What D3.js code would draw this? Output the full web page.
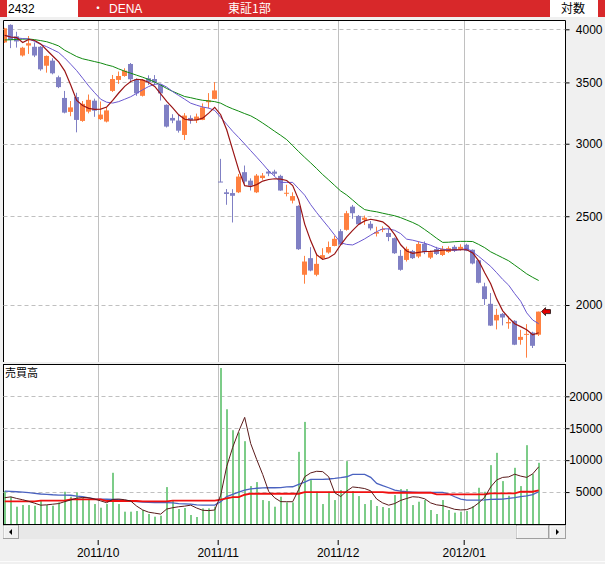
<!DOCTYPE html>
<meta charset="utf-8">
<style>
body { margin: 0; background: #f0f0f0; }
text { font-family: "Liberation Sans", "Noto Sans CJK JP", sans-serif; font-size: 12px; }
.jp { font-family: "Noto Sans CJK JP", sans-serif; }
</style>
<body>
<script src="https://d3js.org/d3.v7.min.js"></script>
<script>

// trading days shown
var dates = [
  "2011/09/07","2011/09/08","2011/09/09","2011/09/12","2011/09/13","2011/09/14","2011/09/15","2011/09/16",
  "2011/09/20","2011/09/21","2011/09/22","2011/09/26","2011/09/27","2011/09/28","2011/09/29","2011/09/30",
  "2011/10/03","2011/10/04","2011/10/05","2011/10/06","2011/10/07","2011/10/11","2011/10/12","2011/10/13",
  "2011/10/14","2011/10/17","2011/10/18","2011/10/19","2011/10/20","2011/10/21","2011/10/24","2011/10/25",
  "2011/10/26","2011/10/27","2011/10/28","2011/10/31",
  "2011/11/01","2011/11/02","2011/11/04","2011/11/07","2011/11/08","2011/11/09","2011/11/10","2011/11/11",
  "2011/11/14","2011/11/15","2011/11/16","2011/11/17","2011/11/18","2011/11/21","2011/11/22","2011/11/24",
  "2011/11/25","2011/11/28","2011/11/29","2011/11/30",
  "2011/12/01","2011/12/02","2011/12/05","2011/12/06","2011/12/07","2011/12/08","2011/12/09","2011/12/12",
  "2011/12/13","2011/12/14","2011/12/15","2011/12/16","2011/12/19","2011/12/20","2011/12/21","2011/12/22",
  "2011/12/26","2011/12/27","2011/12/28","2011/12/29","2011/12/30",
  "2012/01/04","2012/01/05","2012/01/06","2012/01/10","2012/01/11","2012/01/12","2012/01/13","2012/01/16",
  "2012/01/17","2012/01/18","2012/01/19","2012/01/20","2012/01/23"
];

var open = [
  3870,4045,3930,3745,3840,3828,3828,3650,3697,3546,
  3366,3250,3374,3177,3252,3343,3191,3172,3426,3522,
  3557,3666,3528,3384,3537,3530,3478,3308,3201,3180,
  3067,3201,3182,3185,3330,3358,2728,2655,2650,2655,
  2793,2734,2655,2752,2797,2797,2767,2648,2600,2566,
  2158,2250,2158,2250,2282,2320,2408,2416,2561,2502,
  2477,2453,2393,2415,2397,2366,2263,2240,2291,2259,
  2332,2253,2302,2268,2285,2315,2298,2327,2298,2238,
  2096,2006,1924,1956,1910,1922,1832,1856,1866,1856
];
var high = [
  4015,4050,3975,3828,3933,3870,3835,3745,3719,3560,
  3426,3340,3410,3340,3395,3360,3336,3290,3566,3597,
  3627,3675,3535,3530,3563,3565,3482,3312,3231,3225,
  3240,3222,3236,3320,3407,3503,2888,2677,2676,2780,
  2840,2750,2780,2787,2810,2810,2775,2706,2655,2570,
  2263,2313,2278,2307,2346,2380,2420,2534,2572,2508,
  2504,2470,2435,2437,2425,2370,2297,2316,2297,2347,
  2347,2294,2315,2320,2318,2325,2330,2333,2300,2240,
  2115,2061,1981,1960,1943,1925,1879,1906,1870,1967
];
var low = [
  3865,3815,3820,3735,3760,3730,3604,3587,3572,3450,
  3238,3215,3087,3170,3238,3210,3185,3165,3417,3487,
  3550,3500,3384,3378,3478,3478,3344,3125,3159,3085,
  3028,3155,3160,3183,3278,3355,2724,2573,2461,2650,
  2713,2667,2650,2740,2765,2766,2665,2628,2582,2297,
  2110,2177,2150,2240,2275,2318,2325,2411,2484,2446,
  2446,2413,2376,2402,2348,2274,2180,2231,2245,2250,
  2273,2245,2268,2262,2280,2285,2293,2290,2215,2112,
  2000,1897,1881,1900,1884,1808,1810,1752,1795,1850
];
var close = [
  4010,3894,3880,3819,3862,3745,3617,3741,3581,3459,
  3244,3287,3185,3316,3350,3260,3228,3262,3530,3557,
  3605,3528,3405,3522,3502,3500,3405,3132,3180,3100,
  3220,3182,3212,3287,3345,3430,2725,2644,2632,2762,
  2728,2700,2769,2769,2783,2782,2667,2652,2630,2301,
  2231,2181,2218,2267,2314,2362,2328,2519,2519,2450,
  2491,2425,2403,2421,2373,2278,2185,2303,2250,2332,
  2284,2284,2274,2303,2307,2292,2315,2292,2220,2115,
  2030,1899,1951,1938,1916,1810,1846,1860,1805,1967
];

// price moving averages (short / middle / long)
var maShort = [
  3940,3923,3917,3869,3899,3889,3856,3797,3740,3685,
  3603,3477,3345,3303,3279,3271,3273,3290,3345,3408,
  3465,3508,3528,3522,3500,3465,3400,3337,3283,3226,
  3190,3183,3185,3199,3240,3287,3227,3107,2954,2809,
  2700,2694,2707,2731,2742,2747,2745,2735,2700,2605,
  2451,2350,2269,2243,2252,2274,2327,2374,2413,2449,
  2471,2481,2474,2465,2435,2387,2327,2291,2277,2283,
  2288,2289,2292,2295,2296,2298,2298,2298,2280,2235,
  2169,2110,2031,1971,1937,1908,1894,1879,1856,1865
];
var maMid = [
  3940,3923,3914,3908,3904,3880,3851,3829,3801,3773,
  3722,3664,3605,3537,3469,3410,3355,3330,3323,3335,
  3355,3376,3405,3436,3464,3484,3486,3459,3420,3387,
  3355,3322,3305,3290,3281,3262,3206,3150,3095,3047,
  2998,2948,2900,2852,2802,2764,2722,2722,2722,2679,
  2636,2574,2523,2476,2431,2384,2339,2329,2326,2343,
  2362,2384,2405,2422,2422,2413,2393,2360,2354,2345,
  2336,2324,2309,2301,2298,2295,2298,2306,2286,2260,
  2232,2204,2169,2133,2102,2058,2019,1961,1926,1908
];
var maLong = [
  3894,3896,3899,3902,3904,3897,3888,3877,3858,3836,
  3795,3765,3735,3714,3701,3688,3675,3658,3644,3621,
  3600,3582,3564,3546,3526,3503,3477,3447,3422,3400,
  3378,3368,3356,3346,3341,3335,3322,3296,3275,3256,
  3236,3218,3191,3160,3128,3095,3064,3031,2986,2941,
  2899,2859,2818,2776,2739,2701,2664,2637,2604,2570,
  2542,2534,2528,2519,2511,2503,2491,2476,2461,2443,
  2418,2392,2365,2341,2342,2345,2347,2347,2346,2329,
  2310,2286,2269,2252,2235,2211,2187,2163,2144,2127
];

// 売買高
var volume = [
  5156,4271,2708,2969,2969,2865,3594,2969,2865,3385,
  5052,4271,4948,4115,4010,3125,2552,3125,8021,3125,
  1927,1927,2031,2188,1563,1146,1302,5781,3646,2344,
  2500,1406,1094,2448,2448,2708,24427,17969,14688,14323,
  12969,5938,6563,3750,3594,2708,4271,3385,3385,11302,
  15990,6875,5052,3125,5052,3750,5313,9844,5156,4375,
  3125,3750,2813,2656,2500,4531,5469,5469,2969,3490,
  3750,2188,1563,3750,2188,1771,1927,2031,2813,5677,
  5052,9219,11146,6719,4427,8802,5938,12344,7813,9583
];
var volShort = [
  4115,4250,4000,3800,3550,3250,2950,3000,3100,3200,
  3500,3760,4050,4150,4120,3900,3620,3333,3850,3906,
  3800,3600,2800,2200,1850,1700,1550,2344,2550,2700,
  2800,2950,2500,2150,2100,2188,4500,9000,12000,14500,
  16700,12600,10100,7760,5100,4100,3500,3490,3490,5400,
  7400,8000,8255,8200,7400,4900,4300,5156,5800,5700,
  5550,5200,3906,3300,2950,3200,3700,4000,4271,4200,
  3950,3300,3000,2880,2600,2300,2200,2250,2600,3300,
  4200,5800,6900,7300,7380,7800,7500,7300,7850,8958
];
var volMid = [
  5156,5100,5050,4980,4900,4800,4700,4650,4580,4531,
  4531,4500,4350,4280,4100,3950,3906,3880,3854,3800,
  3700,3600,3500,3420,3385,3360,3340,3333,3300,3200,
  3150,3100,3000,2969,2969,2969,3500,4300,4650,5000,
  5313,5500,5600,5650,5677,5677,5700,5800,5833,6200,
  6550,6979,6979,6990,7050,7135,7250,7400,7760,7760,
  7760,7300,6354,6000,5677,5300,5156,5052,5000,4948,
  4948,4948,4948,4948,4700,4271,3900,3750,3750,3750,
  3780,3854,3880,3906,4000,4115,4271,4400,4600,5052
];
var volLong = [
  3540,3540,3540,3540,3540,3540,3650,3650,3650,3650,
  3650,3850,3850,3850,3850,3850,3850,3600,3600,3600,
  3600,3600,3600,3540,3540,3540,3540,3540,3650,3650,
  3650,3650,3650,3650,3650,3650,3800,4000,4219,4219,
  4583,4740,4740,4740,4740,4740,4740,4740,4740,4740,
  5000,5000,5000,5000,5000,5000,5000,5000,5000,5000,
  5000,5000,5000,5000,4896,4896,4896,4896,4896,4896,
  4896,4896,4636,4636,4636,4636,4636,4636,4636,4636,
  4636,4800,4800,4800,4800,4800,5052,5052,5052,5260
];

var priceTicks = [2000, 2500, 3000, 3500, 4000];
var volumeTicks = [5000, 10000, 15000, 20000];
var monthLabels = ["2011/10", "2011/11", "2011/12", "2012/01"];

var W = 605, H = 564;
var plotL = 3.5, plotR = 565.5;
var pTop = 20.5, pBot = 362;
var vTop = 364.5, vBot = 524.5;

var n = dates.length;
var idx = d3.range(n);

var x = d3.scaleLinear().domain([0, n - 1]).range([4.7, 538.7]);
var yP = d3.scaleLog().domain([2000, 4000]).range([305, 29.3]);
var yV = d3.scaleLinear().domain([0, 20000]).range([524, 396.3]);

// month boundaries sit between the last day of one month and the first of the next
var monthStart = monthLabels.map(function(m) {
  return dates.findIndex(function(d) { return d.indexOf(m) === 0; });
});

var svg = d3.select("body").append("svg")
    .attr("width", W)
    .attr("height", H)
    .style("display", "block");

svg.append("rect").attr("width", W).attr("height", H).attr("fill", "#f0f0f0");

// header bar
svg.append("rect").attr("x", 0).attr("y", 0).attr("width", W).attr("height", 17).attr("fill", "#d8282a");
svg.append("rect").attr("x", 7).attr("y", 0).attr("width", 71).attr("height", 17).attr("fill", "#fff");
svg.append("rect").attr("x", 550).attr("y", 0).attr("width", 48).attr("height", 17).attr("fill", "#fff");
svg.append("text").attr("x", 8).attr("y", 13).attr("fill", "#000").text("2432");
svg.append("text").attr("x", 92).attr("y", 13).attr("fill", "#fff").text("・");
svg.append("text").attr("x", 109).attr("y", 13).attr("fill", "#fff").text("DENA");
svg.append("text").attr("class", "jp").attr("x", 228).attr("y", 13).attr("fill", "#fff").text("東証1部");
svg.append("text").attr("class", "jp").attr("x", 561).attr("y", 13).attr("fill", "#000").text("対数");

// panels
svg.append("rect").attr("x", plotL).attr("y", pTop).attr("width", plotR - plotL).attr("height", pBot - pTop).attr("fill", "#fff");
svg.append("path")
    .attr("d", "M" + plotL + "," + pBot + "V" + pTop + "H" + plotR + "V" + pBot)
    .attr("fill", "none").attr("stroke", "#000");
svg.append("rect").attr("x", plotL).attr("y", vTop).attr("width", plotR - plotL).attr("height", vBot - vTop)
    .attr("fill", "#fff").attr("stroke", "#000");

var defs = svg.append("defs");
defs.append("clipPath").attr("id", "clipP").append("rect")
    .attr("x", plotL + 0.5).attr("y", pTop + 0.5).attr("width", plotR - plotL - 1).attr("height", pBot - pTop - 0.5);
defs.append("clipPath").attr("id", "clipV").append("rect")
    .attr("x", plotL + 0.5).attr("y", vTop + 0.5).attr("width", plotR - plotL - 1).attr("height", vBot - vTop - 1);

// grid
var grid = svg.append("g").attr("stroke", "#c0c0c0").attr("stroke-width", 1);
priceTicks.forEach(function(t) {
  var yy = Math.round(yP(t)) + 0.5;
  grid.append("line").attr("x1", plotL).attr("x2", plotR).attr("y1", yy).attr("y2", yy).attr("stroke-dasharray", "4,3");
});
volumeTicks.forEach(function(t) {
  var yy = Math.round(yV(t)) + 0.5;
  grid.append("line").attr("x1", plotL).attr("x2", plotR).attr("y1", yy).attr("y2", yy).attr("stroke-dasharray", "4,3");
});
monthStart.forEach(function(i) {
  var xx = Math.round(x(i - 0.5)) + 0.5;
  grid.append("line").attr("x1", xx).attr("x2", xx).attr("y1", pTop + 0.5).attr("y2", pBot);
  grid.append("line").attr("x1", xx).attr("x2", xx).attr("y1", vTop + 0.5).attr("y2", vBot - 0.5);
});

// candles
var upColor = "#ff8040", downColor = "#8080c4";
var cg = svg.append("g").attr("clip-path", "url(#clipP)");
var candle = cg.selectAll(".candle").data(idx).enter().append("g").attr("class", "candle")
    .attr("fill", function(i) { return close[i] >= open[i] ? upColor : downColor; })
    .attr("stroke", function(i) { return close[i] >= open[i] ? upColor : downColor; });
candle.append("line")
    .attr("x1", function(i) { return Math.floor(x(i)) + 0.5; })
    .attr("x2", function(i) { return Math.floor(x(i)) + 0.5; })
    .attr("y1", function(i) { return yP(high[i]); })
    .attr("y2", function(i) { return yP(low[i]); });
candle.append("rect")
    .attr("stroke", "none")
    .attr("x", function(i) { return Math.floor(x(i)) - 2; })
    .attr("width", 5)
    .attr("y", function(i) { return yP(Math.max(open[i], close[i])); })
    .attr("height", function(i) { return Math.max(1, yP(Math.min(open[i], close[i])) - yP(Math.max(open[i], close[i]))); });

// moving averages on price
function priceLine(arr) {
  return d3.line().x(function(i) { return x(i); }).y(function(i) { return yP(arr[i]); })(idx);
}
cg.append("path").attr("d", priceLine(maLong)).attr("fill", "none").attr("stroke", "#108a10").attr("stroke-width", 1);
cg.append("path").attr("d", priceLine(maMid)).attr("fill", "none").attr("stroke", "#6a58d0").attr("stroke-width", 1);
cg.append("path").attr("d", priceLine(maShort)).attr("fill", "none").attr("stroke", "#9a1414").attr("stroke-width", 1.2);

// current price marker
var lastY = yP(close[n - 1]), ax = 541.5;
svg.append("path")
    .attr("d", "M" + ax + "," + lastY + "l4,-4v2h5v4h-5v2z")
    .attr("fill", "#e00000").attr("stroke", "#000").attr("stroke-width", 0.7);

// volume
var vg = svg.append("g").attr("clip-path", "url(#clipV)");
vg.selectAll(".vbar").data(idx).enter().append("rect").attr("class", "vbar")
    .attr("x", function(i) { return Math.floor(x(i)); })
    .attr("width", 2)
    .attr("y", function(i) { return yV(volume[i]); })
    .attr("height", function(i) { return yV(0) - yV(volume[i]); })
    .attr("fill", "#7ccc88");

function volLine(arr) {
  return d3.line().x(function(i) { return x(i); }).y(function(i) { return yV(arr[i]); })(idx);
}
vg.append("path").attr("d", volLine(volMid)).attr("fill", "none").attr("stroke", "#4a62c0").attr("stroke-width", 1.3);
vg.append("path").attr("d", volLine(volLong)).attr("fill", "none").attr("stroke", "#f01010").attr("stroke-width", 1.8);
vg.append("path").attr("d", volLine(volShort)).attr("fill", "none").attr("stroke", "#5a1a1a").attr("stroke-width", 1);

svg.append("text").attr("class", "jp").attr("x", 5).attr("y", 377).style("font-size", "11px").text("売買高");

// right axes
var pAxis = svg.append("g")
    .attr("transform", "translate(" + plotR + ",0)")
    .call(d3.axisRight(yP).tickValues(priceTicks).tickSize(4).tickFormat(d3.format("d")));
pAxis.select(".domain").remove();
pAxis.selectAll("text").attr("x", 37).attr("text-anchor", "end").attr("fill", "#000")
    .style("font-family", "'Liberation Sans', sans-serif").style("font-size", "12px");

var vAxis = svg.append("g")
    .attr("transform", "translate(" + plotR + ",0)")
    .call(d3.axisRight(yV).tickValues(volumeTicks).tickSize(4).tickFormat(d3.format("d")));
vAxis.select(".domain").remove();
vAxis.selectAll("text").attr("x", 37).attr("text-anchor", "end").attr("fill", "#000")
    .style("font-family", "'Liberation Sans', sans-serif").style("font-size", "12px");

// scroll bar
svg.append("rect").attr("x", 3).attr("y", 525).attr("width", 563).attr("height", 14).attr("fill", "#e8e8e8");
function button(bx, bw) {
  svg.append("rect").attr("x", bx + 0.5).attr("y", 525.5).attr("width", bw).attr("height", 13)
      .attr("fill", "#f0f0f0").attr("stroke", "#a0a0a0");
  svg.append("path").attr("d", "M" + (bx + 1) + "," + 538 + "V526H" + (bx + bw)).attr("fill", "none").attr("stroke", "#fff");
}
button(3, 15);
button(516, 32);
button(549, 16);
svg.append("path").attr("d", "M9,532l3,-3v6z").attr("fill", "#000");
svg.append("path").attr("d", "M559,532l-3,-3v6z").attr("fill", "#000");

// time axis
var xAxis = svg.append("g")
    .attr("transform", "translate(0,540)")
    .call(d3.axisBottom(x)
      .tickValues(monthStart.map(function(i) { return i - 0.5; }))
      .tickFormat(function(d, k) { return monthLabels[k]; })
      .tickSize(5)
      .tickPadding(3));
xAxis.select(".domain").remove();
xAxis.selectAll("text").attr("fill", "#000")
    .style("font-family", "'Liberation Sans', sans-serif").style("font-size", "12px");

svg.append("line").attr("x1", 0).attr("x2", W).attr("y1", 561.5).attr("y2", 561.5).attr("stroke", "#fcfcfc");

</script>
</body>
